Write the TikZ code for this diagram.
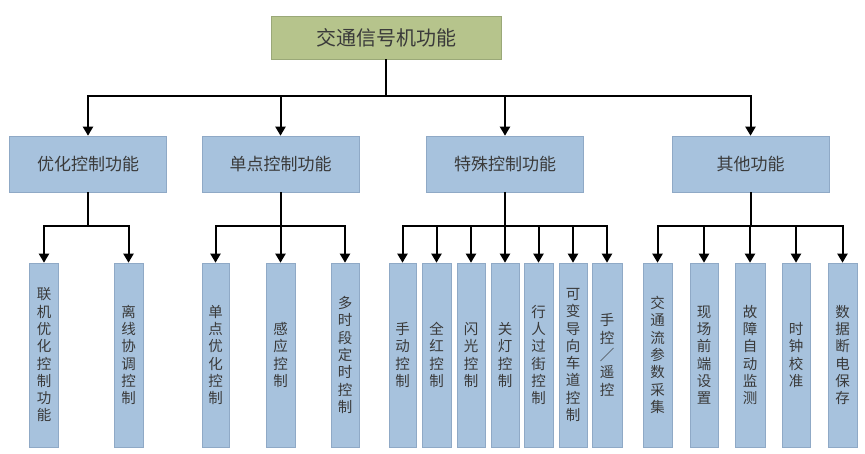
\documentclass[tikz,border=0pt]{standalone}
\usepackage{fontspec}
\newfontfamily\cjk{Noto Sans CJK SC}
\usetikzlibrary{arrows.meta}
\definecolor{bluefill}{HTML}{A7C2DD}
\definecolor{bluedraw}{HTML}{8FA9C6}
\definecolor{greenfill}{HTML}{B6C48C}
\definecolor{greendraw}{HTML}{9AA878}
\definecolor{txt}{HTML}{3A3A3A}
\tikzset{
  topbox/.style={draw=greendraw, fill=greenfill, line width=0.6pt, minimum width=230pt, minimum height=43pt, inner sep=0pt, text=txt, font={\cjk\fontsize{20}{24}\selectfont}},
  midbox/.style={draw=bluedraw, fill=bluefill, line width=0.6pt, minimum width=157pt, minimum height=56pt, inner sep=0pt, text=txt, font={\cjk\fontsize{17}{20}\selectfont}},
  leafbox/.style={draw=bluedraw, fill=bluefill, line width=0.6pt, minimum width=29pt, minimum height=184pt, inner sep=0pt, align=center, text=txt, font={\cjk\fontsize{14.5}{17.3}\selectfont}},
  wire/.style={draw=black, line width=2pt},
  arr/.style={wire, -{Triangle[width=10pt,length=9pt]}}
}
\begin{document}
\begin{tikzpicture}[x=1pt,y=1pt]
\useasboundingbox (0,0) rectangle (865,-453);
% top
\node[topbox] (t) at (386,-37.5) {交通信号机功能};
% level 2
\node[midbox] (a) at (88,-164) {优化控制功能};
\node[midbox] (b) at (280.5,-164) {单点控制功能};
\node[midbox] (c) at (505,-164) {特殊控制功能};
\node[midbox] (d) at (750.5,-164) {其他功能};
% leaves group a
\node[leafbox] (a1) at (44,-355) {联\\机\\优\\化\\控\\制\\功\\能};
\node[leafbox] (a2) at (128.5,-355) {离\\线\\协\\调\\控\\制};
% leaves group b
\node[leafbox, minimum width=27pt] (b1) at (215.5,-355) {单\\点\\优\\化\\控\\制};
\node[leafbox] (b2) at (280.5,-355) {感\\应\\控\\制};
\node[leafbox, minimum width=28pt] (b3) at (345,-355) {多\\时\\段\\定\\时\\控\\制};
% leaves group c
\node[leafbox, minimum width=27pt] (c1) at (402.5,-355) {手\\动\\控\\制};
\node[leafbox] (c2) at (436.5,-355) {全\\红\\控\\制};
\node[leafbox, minimum width=28pt] (c3) at (471,-355) {闪\\光\\控\\制};
\node[leafbox, minimum width=28pt] (c4) at (505,-355) {关\\灯\\控\\制};
\node[leafbox] (c5) at (538.5,-355) {行\\人\\过\\街\\控\\制};
\node[leafbox, minimum width=28pt] (c6) at (573,-355) {可\\变\\导\\向\\车\\道\\控\\制};
\node[leafbox, minimum width=30pt] (c7) at (607,-355) {手\\控\\／\\遥\\控};
% leaves group d
\node[leafbox] (d1) at (657.5,-355) {交\\通\\流\\参\\数\\采\\集};
\node[leafbox, minimum width=28pt] (d2) at (704,-355) {现\\场\\前\\端\\设\\置};
\node[leafbox, minimum width=30pt] (d3) at (750,-355) {故\\障\\自\\动\\监\\测};
\node[leafbox, minimum width=28pt] (d4) at (796,-355) {时\\钟\\校\\准};
\node[leafbox] (d5) at (842.5,-355) {数\\据\\断\\电\\保\\存};
% top -> level 2: trunk, bus, drops
\draw[wire] (t.south) -- ++(0,-37) coordinate (tb);
\draw[wire, line cap=rect] (a.north |- tb) -- (d.north |- tb);
\foreach \n in {a,b,c,d}{ \draw[arr] (\n.north |- tb) -- (\n.north); }
% level 2 -> leaves
\draw[wire] (a.south) -- ++(0,-34) coordinate (ab);
\draw[wire, line cap=rect] (a1.north |- ab) -- (a2.north |- ab);
\foreach \n in {a1,a2}{ \draw[arr] (\n.north |- ab) -- (\n.north); }
\draw[wire] (b.south) -- ++(0,-34) coordinate (bb);
\draw[wire, line cap=rect] (b1.north |- bb) -- (b3.north |- bb);
\foreach \n in {b1,b2,b3}{ \draw[arr] (\n.north |- bb) -- (\n.north); }
\draw[wire] (c.south) -- ++(0,-34) coordinate (cb);
\draw[wire, line cap=rect] (c1.north |- cb) -- (c7.north |- cb);
\foreach \n in {c1,c2,c3,c4,c5,c6,c7}{ \draw[arr] (\n.north |- cb) -- (\n.north); }
\draw[wire] (d.south) -- ++(0,-34) coordinate (db);
\draw[wire, line cap=rect] (d1.north |- db) -- (d5.north |- db);
\foreach \n in {d1,d2,d3,d4,d5}{ \draw[arr] (\n.north |- db) -- (\n.north); }
\end{tikzpicture}
\end{document}
